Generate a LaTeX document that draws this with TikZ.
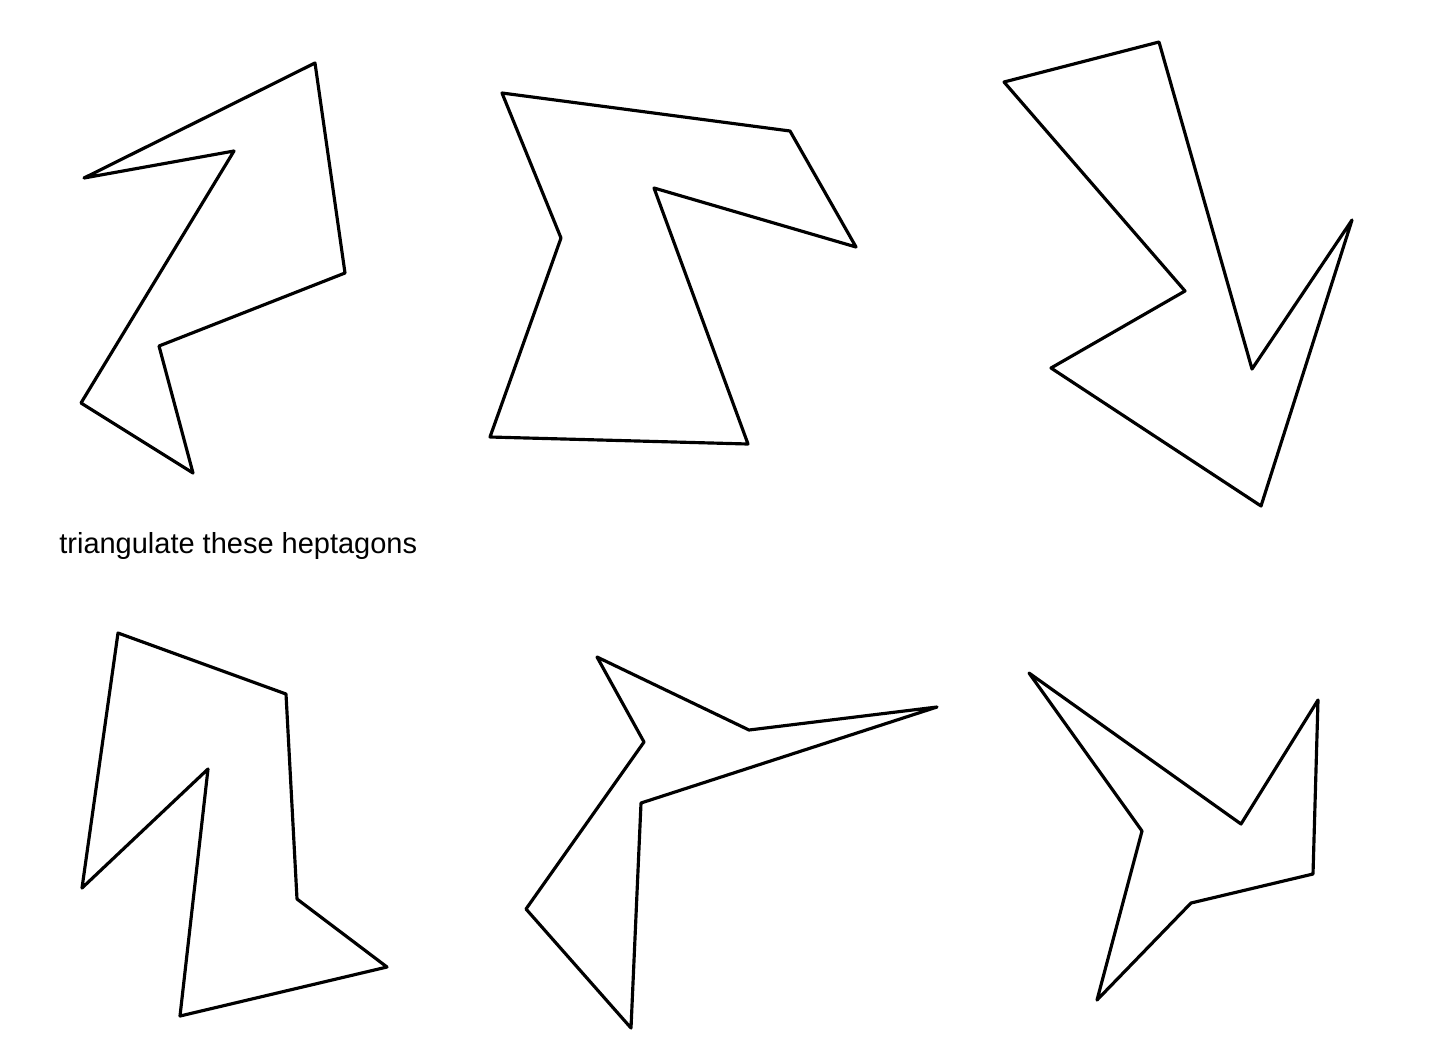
\documentclass[tikz,border=0pt]{standalone}
\usepackage{fontspec}
\setmainfont{Liberation Sans}
\usepackage{tikz}

\tikzset{hept/.style={black,line width=1.8pt,line join=round}}

\begin{document}
\begin{tikzpicture}[x=0.02cm,y=-0.02cm]
\useasboundingbox (0,0) rectangle (1442,1062);
% top row
\draw[hept] (84,178) -- (315,63) -- (345,273) -- (159,346) -- (193,473) -- (81,403) -- (234,151) -- cycle;
\draw[hept] (502,93) -- (790,131) -- (856,247) -- (654,188) -- (748,444) -- (490,437) -- (561,238) -- cycle;
\draw[hept] (1004,82) -- (1159,42) -- (1252,369) -- (1352,220) -- (1261,506) -- (1051,368) -- (1185,291) -- cycle;

\node[anchor=base west,inner sep=0pt,font=\fontsize{16.5}{19}\selectfont] (caption) at (59,553) {triangulate these heptagons};

% bottom row
\draw[hept] (118,633) -- (286,694) -- (297,899) -- (387,967) -- (180,1016) -- (208,769) -- (82,888) -- cycle;
\draw[hept] (597,657) -- (749,730) -- (937,707) -- (641,803) -- (631,1028) -- (526,909) -- (644,742) -- cycle;
\draw[hept] (1029,673) -- (1241,824) -- (1318,700) -- (1313,874) -- (1191,903) -- (1097,1000) -- (1142,831) -- cycle;
\end{tikzpicture}
\end{document}
